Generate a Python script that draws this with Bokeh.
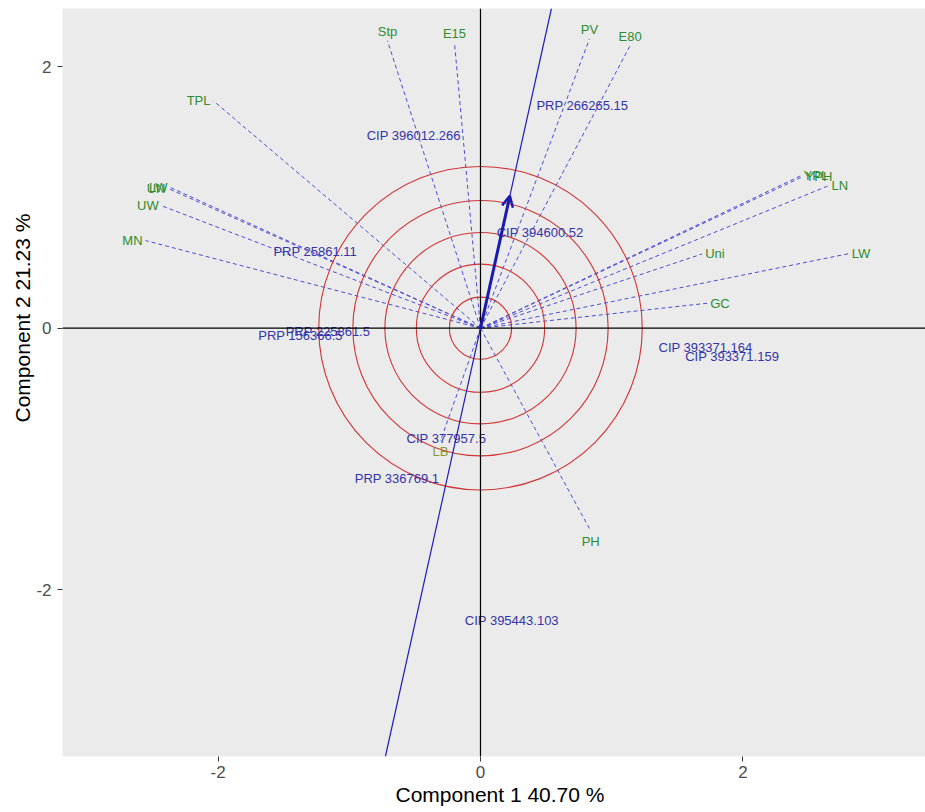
import numpy as np
from bokeh.plotting import figure
from bokeh.models import Span, Slope, Arrow, OpenHead, Title, ColumnDataSource, FixedTicker, Range1d
from bokeh.core.properties import value
from bokeh.embed import file_html
from bokeh.resources import INLINE

# environment / trait vectors (end points)
env_names = ["Stp", "E15", "TPL", "UN", "LW", "UW", "MN", "PV", "E80", "YPL", "YPH",
             "LN", "Uni", "LW", "GC", "PH", "LB"]
env_x = [-0.709, -0.198, -2.035, -2.378, -2.362, -2.43, -2.553, 0.83, 1.14, 2.44, 2.455,
         2.652, 1.69, 2.807, 1.728, 0.84, -0.305]
env_y = [2.197, 2.18, 1.737, 1.067, 1.075, 0.936, 0.670, 2.21, 2.16, 1.165, 1.158,
         1.089, 0.568, 0.57, 0.191, -1.55, -0.86]

# genotype labels
gen_names = ["CIP 396012.266", "PRP 266265.15", "PRP 25861.11", "CIP 394600.52",
             "PRP 225861.5", "PRP 156366.5", "CIP 393371.164", "CIP 393371.159",
             "CIP 377957.5", "PRP 336769.1", "CIP 395443.103"]
gen_x = [-0.509, 0.776, -1.26, 0.454, -1.163, -1.372, 1.715, 1.918, -0.26, -0.636, 0.239]
gen_y = [1.471, 1.705, 0.588, 0.728, -0.025, -0.056, -0.148, -0.217, -0.845, -1.15, -2.233]

# average environment axis
aea_x = 0.224
aea_y = 1.012

# concentric circles
circle_r = [0.237, 0.489, 0.729, 0.973, 1.233]

x_ticks = [-2, 0, 2]
y_ticks = [-2, 0, 2]
tick_labels = {-2: "-2", 0: "0", 2: "2"}
x_title = "Component 1 40.70 %"
y_title = "Component 2 21.23 %"

FONT = "Liberation Sans"

p = figure(frame_width=863, frame_height=748,
           x_range=Range1d(-3.186, 3.392), y_range=Range1d(-3.274, 2.444),
           output_backend="svg", toolbar_location=None,
           min_border_left=62, min_border_right=0, min_border_top=8, min_border_bottom=56)
p.background_fill_color = "#EBEBEB"
p.border_fill_color = "white"
p.outline_line_color = None
p.grid.visible = False

for ax, ticks in ((p.xaxis, x_ticks), (p.yaxis, y_ticks)):
    ax.ticker = FixedTicker(ticks=ticks)
    ax.major_label_overrides = tick_labels
    ax.axis_line_color = None
    ax.major_tick_line_color = "#333333"
    ax.major_tick_out = 5
    ax.major_tick_in = 0
    ax.minor_tick_line_color = None
    ax.major_label_text_font = FONT
    ax.major_label_text_font_size = "17px"
    ax.major_label_text_color = "#4D4D4D"
p.xaxis.major_label_standoff = 4
p.yaxis.major_label_standoff = 6

# trait vectors
p.segment(x0=0, y0=0, x1=env_x, y1=env_y, line_color="#4b4bd6",
          line_width=1, line_dash="4 3")

# circles
p.circle(x=[0] * len(circle_r), y=[0] * len(circle_r), radius=circle_r,
         fill_color=None, line_color="#d03535", line_width=1.1)

# axes through origin
p.add_layout(Span(location=0, dimension="width", line_color="black", line_width=1.2))
p.add_layout(Span(location=0, dimension="height", line_color="black", line_width=1.2))

# average environment axis
p.add_layout(Slope(gradient=aea_y / aea_x, y_intercept=0, line_color="#1f1fb4", line_width=1.2))
p.add_layout(Arrow(end=OpenHead(size=11, line_color="#1a1ab0", line_width=2.5),
                   x_start=0, y_start=0, x_end=aea_x, y_end=aea_y,
                   line_color="#1a1ab0", line_width=3))

# trait labels grouped by placement
groups = {"left": [], "right": [], "up": [], "down": []}
for n, x, y in zip(env_names, env_x, env_y):
    c = x / np.hypot(x, y)
    if abs(c) > 0.7:
        groups["left" if x > 0 else "right"].append((n, x, y))
    else:
        groups["up" if y > 0 else "down"].append((n, x, y))

spec = {"left": ("left", "middle", 3, 0), "right": ("right", "middle", -3, 0),
        "up": ("center", "bottom", 0, -2), "down": ("center", "top", 0, 3)}
for g, items in groups.items():
    if not items:
        continue
    names = [i[0] for i in items]
    src = ColumnDataSource(dict(x=[i[1] for i in items], y=[i[2] for i in items], t=names,
                                c=["#8a9a2a" if n == "LB" else "#2e8b2e" for n in names]))
    al, bl, xo, yo = spec[g]
    p.text(x="x", y="y", text="t", source=src, text_color="c",
           text_font=value(FONT), text_font_size="13px",
           text_align=al, text_baseline=bl, x_offset=xo, y_offset=yo)

# genotype labels
p.text(x=gen_x, y=gen_y, text=gen_names, text_color="#3333aa",
       text_font=value(FONT), text_font_size="13px",
       text_align="center", text_baseline="middle")

# axis titles
p.add_layout(Title(text=x_title, align="left", offset=333, text_font=FONT,
                   text_font_size="21px", text_font_style="normal", text_color="black",
                   standoff=0), "below")
p.add_layout(Title(text=y_title, align="left", offset=334, text_font=FONT,
                   text_font_size="21px", text_font_style="normal", text_color="black",
                   standoff=0), "left")

open("out.html", "w").write(file_html(p, INLINE))
